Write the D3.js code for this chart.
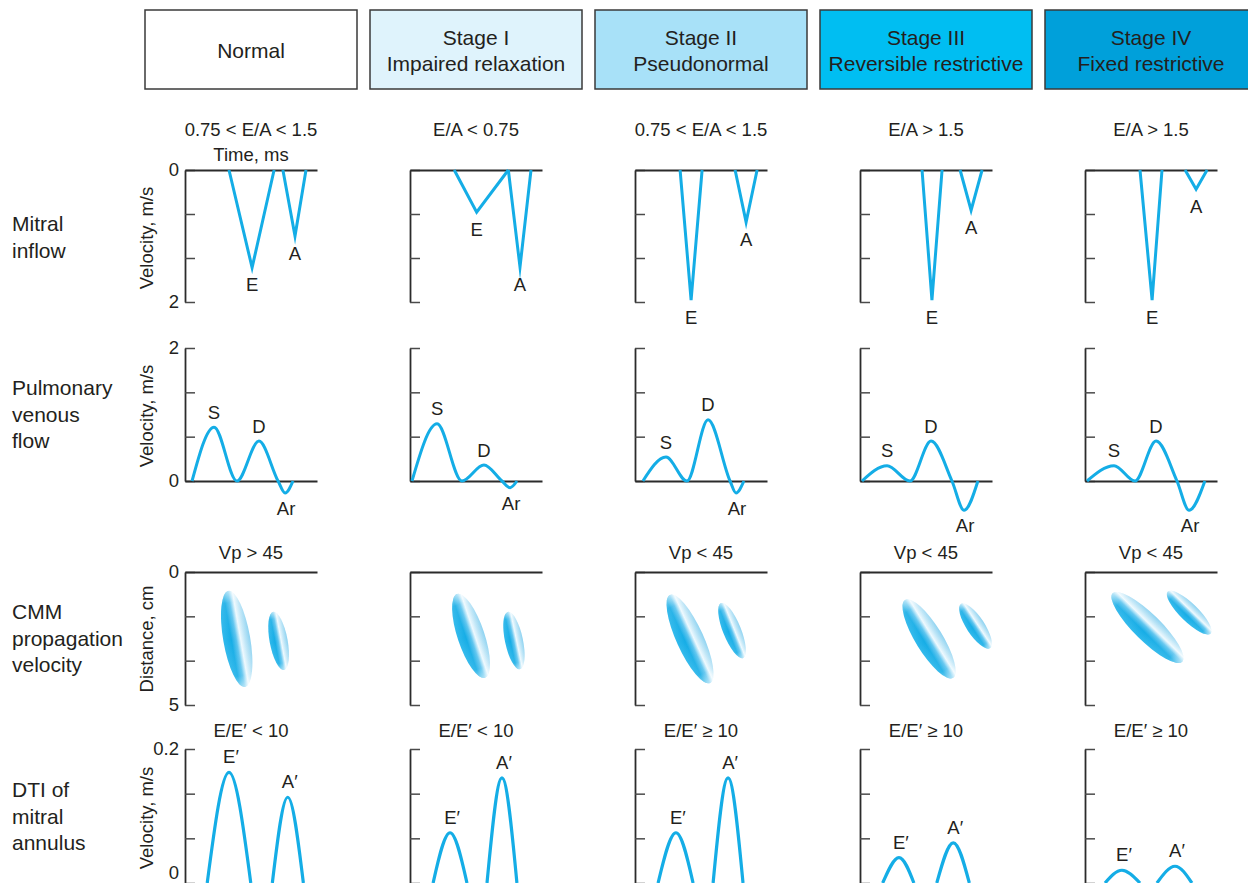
<!DOCTYPE html>
<html><head><meta charset="utf-8">
<script src="https://cdn.jsdelivr.net/npm/d3@7"></script>
<style>
body{margin:0;background:#fff}
svg{display:block}
text{font-family:"Liberation Sans",Arial,Helvetica,sans-serif;fill:#231f20}
</style>
</head><body>
<svg id="chart" width="1248" height="883"></svg>
<script>
// ---------------- data ----------------
const stageNames = ["Normal", "Stage I", "Stage II", "Stage III", "Stage IV"];
const stageSubtitles = ["", "Impaired relaxation", "Pseudonormal", "Reversible restrictive", "Fixed restrictive"];
const stageFills = ["#ffffff", "#dff3fc", "#a8e1f8", "#00bef2", "#00a0da"];
const rowLabels = [["Mitral", "inflow"], ["Pulmonary", "venous", "flow"], ["CMM", "propagation", "velocity"], ["DTI of", "mitral", "annulus"]];
const mitralTitles = ["0.75 < E/A < 1.5", "E/A < 0.75", "0.75 < E/A < 1.5", "E/A > 1.5", "E/A > 1.5"];
const cmmTitles = ["Vp > 45", "", "Vp < 45", "Vp < 45", "Vp < 45"];
const dtiTitles = ["E/E\u2032 < 10", "E/E\u2032 < 10", "E/E\u2032 \u2265 10", "E/E\u2032 \u2265 10", "E/E\u2032 \u2265 10"];

// mitral inflow waves: [start ms, peak ms, end ms, peak velocity m/s]
const mitralE = [[200, 305, 405, 1.48], [201, 303, 447, 0.64], [205, 255, 305, 1.97], [282, 327, 373, 1.97], [250, 305, 350, 1.97]];
const mitralA = [[445, 500, 550, 1.00], [447, 500, 550, 1.47], [455, 505, 555, 0.79], [455, 505, 555, 0.61], [455, 505, 555, 0.29]];

// pulmonary venous flow key points [ms, m/s]: start, S, trough, D, zero, Ar, end
const pulmonaryFlow = [
  [[32, 0], [132, 0.81], [236, 0], [336, 0.60], [423, 0], [455, -0.18], [491, 0]],
  [[9, 0], [123, 0.86], [236, 0], [336, 0.24], [418, 0], [455, -0.10], [486, 0]],
  [[36, 0], [141, 0.36], [236, 0], [332, 0.92], [432, 0], [459, -0.18], [495, 0]],
  [[9, 0], [123, 0.23], [227, 0], [323, 0.60], [418, 0], [473, -0.44], [536, 0]],
  [[9, 0], [132, 0.23], [227, 0], [323, 0.60], [418, 0], [473, -0.44], [545, 0]]
];

// colour M-mode streaks: [top ms, top cm, bottom ms, bottom cm]
const cmmEarly = [[197, 0.71, 273, 4.32], [214, 0.83, 341, 3.98], [159, 0.86, 341, 4.17], [205, 1.05, 423, 3.98], [126, 0.80, 442, 3.37]];
const cmmLate = [[401, 1.50, 450, 3.68], [445, 1.50, 500, 3.65], [391, 1.17, 491, 3.23], [459, 1.20, 591, 2.86], [376, 0.74, 571, 2.31]];

// tissue Doppler waves: [start ms, peak ms, end ms, peak m/s]
const dtiE = [[101, 200, 299, 0.165], [105, 182, 259, 0.075], [105, 186, 264, 0.075], [103, 177, 245, 0.038], [91, 168, 250, 0.019]];
const dtiA = [[397, 467, 538, 0.128], [350, 418, 486, 0.157], [355, 423, 491, 0.157], [349, 424, 497, 0.060], [327, 409, 486, 0.025]];

const mitralTicks = [0, 2 / 3, 4 / 3, 2];
const pulmTicks = [0, 2 / 3, 4 / 3, 2];
const cmmTicks = [0, 5 / 3, 10 / 3, 5];
const dtiTicks = [0, 0.2 / 3, 0.4 / 3, 0.2];

// ---------------- layout ----------------
const svg = d3.select("#chart");
const BLUE = "#14ade6";
const COL0 = 185, STEP = 225, PW = 132;
const TXT = "18.5px";
const BIG = "21px";

const defs = svg.append("defs");
const grad = defs.append("linearGradient").attr("id", "cmmGrad")
  .attr("x1", 0).attr("y1", 1).attr("x2", 0).attr("y2", 0);
[[0, "#2fb9ec"], [0.3, "#16ade6"], [0.48, "#5cc4ef"], [0.64, "#eef9fe"], [0.8, "#bfe6f7"], [1, "#8cd2f1"]]
  .forEach(([o, c]) => grad.append("stop").attr("offset", o).attr("stop-color", c));
const fade = defs.append("linearGradient").attr("id", "cmmFade")
  .attr("x1", 0).attr("y1", 0).attr("x2", 1).attr("y2", 0);
[[0, 0.55], [0.12, 0.1], [0.5, 0], [0.88, 0.1], [1, 0.55]]
  .forEach(([o, a]) => fade.append("stop").attr("offset", o).attr("stop-color", "#fff").attr("stop-opacity", a));

// header boxes
stageNames.forEach((name, i) => {
  const x = 145 + i * STEP;
  const g = svg.append("g");
  g.append("rect").attr("x", x).attr("y", 10).attr("width", 212).attr("height", 79)
    .attr("fill", stageFills[i]).attr("stroke", "#3a3a3a").attr("stroke-width", 1.5);
  const cx = x + 106;
  if (stageSubtitles[i]) {
    g.append("text").attr("x", cx).attr("y", 45).attr("text-anchor", "middle").attr("font-size", BIG).text(name);
    g.append("text").attr("x", cx).attr("y", 71).attr("text-anchor", "middle").attr("font-size", BIG).text(stageSubtitles[i]);
  } else {
    g.append("text").attr("x", cx).attr("y", 58).attr("text-anchor", "middle").attr("font-size", BIG).text(name);
  }
});

// row labels
const rowBaselines = [231, 395, 619, 797];
rowLabels.forEach((lines, r) => {
  lines.forEach((s, k) => {
    svg.append("text").attr("x", 12).attr("y", rowBaselines[r] + k * 26.5)
      .attr("font-size", BIG).text(s);
  });
});

function styleAxis(g) {
  g.select(".domain").attr("stroke", "#2b2b2b").attr("stroke-width", 1.8);
  g.selectAll(".tick line").attr("stroke", "#4a4a4a").attr("stroke-width", 1.5);
  g.selectAll("text").attr("font-size", TXT).attr("fill", "#231f20")
    .attr("font-family", "'Liberation Sans',Arial,sans-serif");
  g.attr("font-family", null).attr("font-size", null);
}

function leftAxis(x0, scale, ticks, labels, showLabels) {
  const g = svg.append("g").attr("transform", `translate(${x0},0)`);
  g.call(d3.axisLeft(scale).tickValues(ticks).tickSizeInner(-10).tickSizeOuter(0).tickPadding(6)
    .tickFormat((d, i) => showLabels ? (labels[i] || "") : ""));
  styleAxis(g);
  return g;
}
function hLine(xs, y) {
  const g = svg.append("g").attr("transform", `translate(0,${y})`);
  g.call(d3.axisTop(xs).tickValues([]).tickSizeOuter(0));
  styleAxis(g);
}
function yTitle(x, cy, s) {
  svg.append("text").attr("transform", `translate(${x},${cy}) rotate(-90)`)
    .attr("text-anchor", "middle").attr("font-size", TXT).text(s);
}
function label(x, y, s) {
  svg.append("text").attr("x", x).attr("y", y).attr("text-anchor", "middle").attr("font-size", TXT).text(s);
}

const yMitral = d3.scaleLinear([0, 2], [170, 302]);
const yPulm = d3.scaleLinear([0, 2], [481, 348]);
const yCmm = d3.scaleLinear([0, 5], [572, 705]);
const yDti = d3.scaleLinear([0, 0.2], [883, 749]);

stageNames.forEach((_, i) => {
  const x0 = COL0 + i * STEP;
  const x = d3.scaleLinear([0, 600], [x0, x0 + PW]);
  const cx = x0 + 66;
  const first = i === 0;

  // ---- mitral inflow ----
  label(cx, 136, mitralTitles[i]);
  if (first) label(cx, 161, "Time, ms");
  leftAxis(x0, yMitral, mitralTicks, ["0", "", "", "2"], first);
  hLine(x, yMitral(0));
  if (first) yTitle(153, 238, "Velocity, m/s");
  const mline = d3.line().x(d => x(d[0])).y(d => yMitral(d[1]));
  [[mitralE[i], "E"], [mitralA[i], "A"]].forEach(([w, nm]) => {
    svg.append("path").attr("d", mline([[w[0], 0], [w[1], w[3]], [w[2], 0]]))
      .attr("fill", "none").attr("stroke", BLUE).attr("stroke-width", 3).attr("stroke-linejoin", "miter").attr("stroke-miterlimit", 10);
    label(x(w[1]), yMitral(w[3]) + 23.5, nm);
  });

  // ---- pulmonary venous flow ----
  leftAxis(x0, yPulm, pulmTicks, ["0", "", "", "2"], first);
  hLine(x, yPulm(0));
  if (first) yTitle(153, 416, "Velocity, m/s");
  const p = pulmonaryFlow[i];
  svg.append("path").attr("d", d3.line().x(d => x(d[0])).y(d => yPulm(d[1])).curve(d3.curveMonotoneX)(p))
    .attr("fill", "none").attr("stroke", BLUE).attr("stroke-width", 3);
  label(x(p[1][0]), yPulm(p[1][1]) - 8.5, "S");
  label(x(p[3][0]), yPulm(p[3][1]) - 8.5, "D");
  label(x(p[5][0]) + 1, yPulm(p[5][1]) + 22, "Ar");

  // ---- CMM ----
  if (cmmTitles[i]) label(cx, 559, cmmTitles[i]);
  leftAxis(x0, yCmm, cmmTicks, ["0", "", "", "5"], first);
  hLine(x, yCmm(0));
  if (first) yTitle(153, 639, "Distance, cm");
  [[cmmEarly[i], 13.5], [cmmLate[i], 9]].forEach(([e, ry]) => {
    const ax = x(e[0]), ay = yCmm(e[1]), bx = x(e[2]), by = yCmm(e[3]);
    const len = Math.hypot(bx - ax, by - ay);
    const ang = Math.atan2(by - ay, bx - ax) * 180 / Math.PI;
    const g = svg.append("g").attr("transform", `translate(${(ax + bx) / 2},${(ay + by) / 2}) rotate(${ang})`);
    g.append("ellipse").attr("rx", len / 2).attr("ry", ry).attr("fill", "url(#cmmGrad)");
    g.append("ellipse").attr("rx", len / 2).attr("ry", ry).attr("fill", "url(#cmmFade)");
  });

  // ---- DTI ----
  label(cx, 737, dtiTitles[i]);
  const dAx = leftAxis(x0, yDti, dtiTicks, ["0", "", "", "0.2"], first);
  // keep the bottom "0" inside the picture
  dAx.selectAll(".tick text").filter(d => d === 0).attr("dy", null).attr("y", -5);
  if (first) yTitle(153, 818, "Velocity, m/s");
  const dline = d3.line().x(d => x(d[0])).y(d => yDti(d[1])).curve(d3.curveNatural);
  [[dtiE[i], "E\u2032"], [dtiA[i], "A\u2032"]].forEach(([w, nm]) => {
    svg.append("path").attr("d", dline([[w[0], 0], [w[1], w[3]], [w[2], 0]]))
      .attr("fill", "none").attr("stroke", BLUE).attr("stroke-width", 3.2);
    label(x(w[1]) + 2, yDti(w[3]) - 9, nm);
  });
});
</script>
</body></html>
